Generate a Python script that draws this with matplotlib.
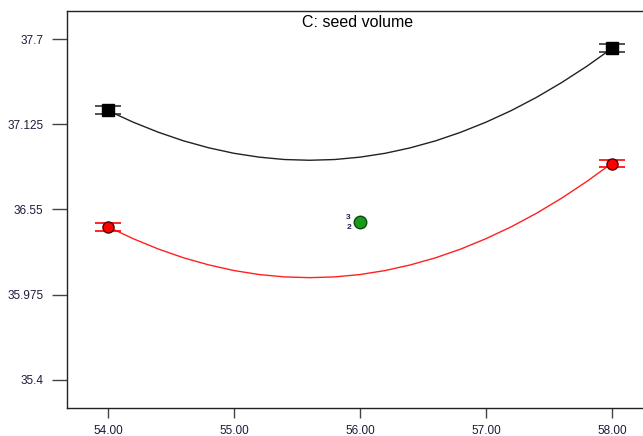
import numpy as np
import matplotlib
matplotlib.use('Agg')
import matplotlib.pyplot as plt

plt.rcParams['font.family'] = ['Liberation Sans', 'DejaVu Sans']

# predicted response along C (seed volume)
x_curve = [54.0, 54.2, 54.4, 54.6, 54.8, 55.0, 55.2, 55.4, 55.6, 55.8, 56.0,
           56.2, 56.4, 56.6, 56.8, 57.0, 57.2, 57.4, 57.6, 57.8, 58.0]
y_black = [37.217, 37.139, 37.071, 37.013, 36.966, 36.929, 36.903, 36.887, 36.882, 36.887, 36.903,
           36.929, 36.966, 37.013, 37.071, 37.139, 37.217, 37.306, 37.406, 37.516, 37.637]
y_red = [36.433, 36.353, 36.283, 36.224, 36.176, 36.138, 36.111, 36.095, 36.090, 36.095, 36.111,
         36.138, 36.176, 36.224, 36.283, 36.353, 36.433, 36.524, 36.626, 36.739, 36.862]

# design points
x_ends = [54.0, 58.0]
black_pts = [37.222, 37.640]
red_pts = [36.432, 36.860]
pt_err = [0.026, 0.026]
center_x = [56.0]
center_y = [36.464]

xticks = [54.0, 55.0, 56.0, 57.0, 58.0]
yticks = [35.4, 35.975, 36.55, 37.125, 37.7]
ytick_labels = ['35.4', '35.975', '36.55', '37.125', '37.7']

fig = plt.figure(figsize=(6.43, 4.36), dpi=100)
ax = fig.add_axes([67 / 643, 28 / 436, 1 - 67 / 643, 397 / 436])

ax.plot(x_curve, y_black, color='#222222', lw=1.0)
ax.plot(x_curve, y_red, color='#ff2020', lw=1.0)

ax.errorbar(x_ends, black_pts, yerr=pt_err, fmt='s', color='black', ms=8,
            mec='black', ecolor='#333333', elinewidth=1, capsize=9.5, capthick=1.2)
ax.errorbar(x_ends, red_pts, yerr=pt_err, fmt='o', color='red', ms=8,
            mec='#550000', ecolor='red', elinewidth=1, capsize=9.5, capthick=1.2)
ax.plot(center_x, center_y, 'o', color='#1a9a1a', mec='#0a4a0a', ms=9)
# replicate counts at the centre point
ax.text(center_x[0] - 0.09, center_y[0] - 0.034, '2', fontsize=6, color='#202050',
        ha='center', va='center', fontweight='bold')
ax.text(center_x[0] - 0.09, center_y[0] + 0.034, '3', fontsize=6, color='#202050',
        ha='center', va='center', fontweight='bold')

ax.set_xlim(53.675, 58.246)
ax.set_ylim(35.2106, 37.889)
ax.set_xticks(xticks)
ax.set_xticklabels(['%.2f' % v for v in xticks])
ax.set_yticks(yticks)
ax.set_yticklabels(ytick_labels)
ax.tick_params(axis='y', length=11, width=1, color='#444444', pad=6,
               labelsize=8.5, labelcolor='#1c1c3c')
ax.tick_params(axis='x', length=7.5, width=1, color='#444444', pad=5,
               labelsize=8.5, labelcolor='#1c1c3c')
ax.spines['right'].set_visible(False)
for s in ['left', 'top', 'bottom']:
    ax.spines[s].set_color('#222222')
    ax.spines[s].set_linewidth(1)

ax.text(0.505, 0.972, 'C: seed volume', transform=ax.transAxes, ha='center',
        va='center', fontsize=11.5, color='black')

fig.savefig('out.png', dpi=100)
